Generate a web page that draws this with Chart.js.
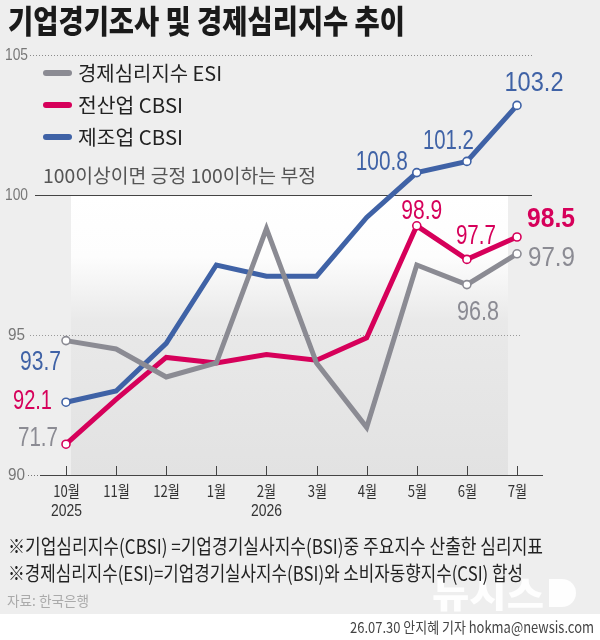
<!DOCTYPE html>
<html>
<head>
<meta charset="UTF-8">
<title>기업경기조사 및 경제심리지수 추이</title>
<script src="https://cdn.jsdelivr.net/npm/chart.js"></script>
<style>
  html, body { margin: 0; padding: 0; background: #eeeeee; }
  #c { display: block; }
</style>
</head>
<body>
<canvas id="c" width="600" height="640" style="width:600px;height:640px"></canvas>
<script>
// months (x categories)
const months = ['10월', '11월', '12월', '1월', '2월', '3월', '4월', '5월', '6월', '7월'];
const years = ['2025', '', '', '', '2026', '', '', '', '', ''];

// values
const esi = [94.8, 94.5, 93.5, 94.0, 98.8, 94.0, 91.7, 97.5, 96.8, 97.9];       // 경제심리지수 ESI
const cbsiAll = [91.1, 92.7, 94.2, 94.0, 94.3, 94.1, 94.9, 98.9, 97.7, 98.5];   // 전산업 CBSI
const cbsiMfg = [92.6, 93.0, 94.7, 97.5, 97.1, 97.1, 99.2, 100.8, 101.2, 103.2]; // 제조업 CBSI

// printed labels (as they appear on the graphic)
const esiLabels = ['71.7', '', '', '', '', '', '', '', '96.8', '97.9'];
const allLabels = ['92.1', '', '', '', '', '', '', '98.9', '97.7', '98.5'];
const mfgLabels = ['93.7', '', '', '', '', '', '', '100.8', '101.2', '103.2'];

const yTicks = [90, 95, 100, 105];
const seriesNames = ['경제심리지수 ESI', '전산업 CBSI', '제조업 CBSI'];

const GRAY = '#8b8b93', RED = '#d6005a', BLUE = '#3f62a6';
const KR = "'Noto Sans CJK KR'";
const NUM = "'Liberation Sans Narrow', 'Liberation Sans'";

// which points get a marker
function radii(idx) { return months.map((m, i) => idx.includes(i) ? 4 : 0); }

// condensed text helper
function txt(ctx, s, x, y, font, color, align, sx, w) {
  ctx.save();
  ctx.font = font;
  ctx.fillStyle = color;
  ctx.textBaseline = 'middle';
  ctx.textAlign = align;
  if (w) sx = w / ctx.measureText(s).width;
  ctx.translate(x, y);
  ctx.scale(sx || 1, 1);
  ctx.fillText(s, 0, 0);
  ctx.restore();
}

function line(ctx, x1, y1, x2, y2, color, dash, width) {
  ctx.save();
  ctx.strokeStyle = color;
  ctx.lineWidth = width || 1;
  ctx.setLineDash(dash || []);
  ctx.beginPath();
  ctx.moveTo(x1, y1);
  ctx.lineTo(x2, y2);
  ctx.stroke();
  ctx.restore();
}

const backdrop = {
  id: 'backdrop',
  beforeDraw(chart) {
    const ctx = chart.ctx, xs = chart.scales.x, ys = chart.scales.y;
    ctx.save();
    ctx.fillStyle = '#eeeeee';
    ctx.fillRect(0, 0, 600, 640);
    ctx.fillStyle = '#ffffff';
    ctx.fillRect(0, 614, 600, 26);

    // watermark (behind the notes)
    ctx.fillStyle = 'rgba(255,255,255,0.9)';
    ctx.beginPath();
    ctx.moveTo(549, 579);
    ctx.lineTo(562, 579);
    ctx.arc(562, 593, 14, -Math.PI / 2, Math.PI / 2);
    ctx.lineTo(549, 607);
    ctx.closePath();
    ctx.fill();
    ctx.restore();
    txt(ctx, '뉴시스', 432, 594, '900 36px ' + KR, 'rgba(255,255,255,0.9)', 'left', 1, 112);

    // shaded panel under the 100 line
    const top = ys.getPixelForValue(100), bot = ys.getPixelForValue(90);
    const left = xs.getPixelForValue(0) + 5, right = xs.getPixelForValue(9) - 9;
    const g = ctx.createLinearGradient(0, top, 0, bot);
    g.addColorStop(0, '#ffffff');
    g.addColorStop(0.22, '#fdfdfd');
    g.addColorStop(0.45, '#e9e9e9');
    g.addColorStop(1, '#e2e2e2');
    ctx.save();
    ctx.fillStyle = g;
    ctx.fillRect(left, top, right - left, bot - top);
    ctx.restore();

    // grid lines
    const y105 = ys.getPixelForValue(105), y100 = ys.getPixelForValue(100);
    const y95 = ys.getPixelForValue(95), y90 = ys.getPixelForValue(90);
    line(ctx, 30, y105 + 0.5, 532, y105 + 0.5, '#8a8a8a', [1, 2]);
    line(ctx, 35, y100 + 0.5, 532, y100 + 0.5, '#444444');
    line(ctx, 30, y95 + 0.5, 522, y95 + 0.5, '#9a9a9a', [1, 2]);
    line(ctx, 28, y90 + 0.5, 40, y90 + 0.5, '#777777', [1, 2]);
    line(ctx, 40, y90 + 0.5, 543, y90 + 0.5, '#444444');

    // y tick labels
    yTicks.forEach(v => {
      const s = String(v);
      txt(ctx, s, s.length > 2 ? 5 : 8, ys.getPixelForValue(v) + 1, '16px ' + NUM, '#777777', 'left', 1, s.length > 2 ? 23 : 17);
    });

    // x ticks and labels
    months.forEach((m, i) => {
      const px = Math.round(xs.getPixelForValue(i)) + 0.5;
      line(ctx, px, y90 - 9, px, y90, '#444444');
      txt(ctx, m, px, y90 + 16, '16px ' + KR, '#333333', 'center', 0.82);
      if (years[i]) txt(ctx, years[i], px, y90 + 36, '17px ' + NUM, '#333333', 'center', 1, 31);
    });

    // note about 100
    txt(ctx, '100이상이면 긍정 100이하는 부정', 43, 176, '19px ' + KR, '#555555', 'left', 1, 273);
  },
  afterDatasetsDraw(chart) {
    const ctx = chart.ctx;
    const pt = (d, i) => chart.getDatasetMeta(d).data[i];
    // dataset index: 0 gray, 1 red, 2 blue
    const specs = [
      [2, 0, mfgLabels, -5, -40, 'right', 41, BLUE, ''],
      [1, 0, allLabels, -14, -43, 'right', 39, RED, ''],
      [0, 0, esiLabels, -8, 98, 'right', 40, GRAY, ''],
      [2, 7, mfgLabels, -9, -10, 'right', 52, BLUE, ''],
      [2, 8, mfgLabels, 7, -20, 'right', 51, BLUE, ''],
      [2, 9, mfgLabels, 17, -22, 'center', 59, BLUE, ''],
      [1, 7, allLabels, 5, -15, 'center', 41, RED, ''],
      [1, 8, allLabels, 9, -23, 'center', 40, RED, ''],
      [1, 9, allLabels, 10, -18, 'left', 48, RED, 'bold '],
      [0, 8, esiLabels, 11, 28, 'center', 42, GRAY, ''],
      [0, 9, esiLabels, 11, 4, 'left', 47, GRAY, '']
    ];
    specs.forEach(([d, i, arr, dx, dy, al, w, col, wt]) => {
      const p = pt(d, i);
      txt(ctx, arr[i], p.x + dx, p.y + dy, wt + '28px ' + NUM, col, al, 1, w);
    });
  },
  afterDraw(chart) {
    const ctx = chart.ctx;
    // title
    txt(ctx, '기업경기조사 및 경제심리지수 추이', 8, 21, '900 32px ' + KR, '#1a1a1a', 'left', 1, 397);

    // legend
    const cols = [GRAY, RED, BLUE], ly = [73, 105, 137];
    seriesNames.forEach((s, k) => {
      ctx.save();
      ctx.strokeStyle = cols[k];
      ctx.lineWidth = 6;
      ctx.lineCap = 'round';
      ctx.beginPath();
      ctx.moveTo(46, ly[k]);
      ctx.lineTo(69, ly[k]);
      ctx.stroke();
      ctx.restore();
      txt(ctx, s, 78, ly[k], '20px ' + KR, '#222222', 'left', 1, k === 0 ? 144 : 105);
    });

    // footnotes
    txt(ctx, '※기업심리지수(CBSI) =기업경기실사지수(BSI)중 주요지수 산출한 심리지표', 8, 546, '20px ' + KR, '#222222', 'left', 1, 535);
    txt(ctx, '※경제심리지수(ESI)=기업경기실사지수(BSI)와 소비자동향지수(CSI) 합성', 8, 573, '20px ' + KR, '#222222', 'left', 1, 515);
    txt(ctx, '자료: 한국은행', 7, 601, '14px ' + KR, '#aaaaaa', 'left', 1, 82);

    // credit
    txt(ctx, '26.07.30 안지혜 기자 hokma@newsis.com', 594, 627, '15px ' + KR, '#444444', 'right', 1, 244);
  }
};

function ds(label, data, color, pts, order) {
  return {
    label: label,
    data: data,
    borderColor: color,
    backgroundColor: color,
    borderWidth: 5,
    borderJoinStyle: 'miter',
    tension: 0,
    pointRadius: radii(pts),
    pointHoverRadius: radii(pts),
    pointBackgroundColor: '#ffffff',
    pointBorderColor: color,
    pointBorderWidth: 1.6,
    order: order,
    clip: false
  };
}

new Chart(document.getElementById('c').getContext('2d'), {
  type: 'line',
  data: {
    labels: months,
    datasets: [
      ds(seriesNames[0], esi, GRAY, [0, 8, 9], 0),
      ds(seriesNames[1], cbsiAll, RED, [0, 7, 8, 9], 1),
      ds(seriesNames[2], cbsiMfg, BLUE, [0, 7, 8, 9], 2)
    ]
  },
  options: {
    responsive: false,
    animation: false,
    devicePixelRatio: 1,
    layout: { padding: { left: 66, right: 83, top: 55, bottom: 165 } },
    plugins: { legend: { display: false }, tooltip: { enabled: false } },
    events: [],
    scales: {
      x: { display: false, offset: false },
      y: { display: false, min: 90, max: 105 }
    }
  },
  plugins: [backdrop]
});
</script>
</body>
</html>
